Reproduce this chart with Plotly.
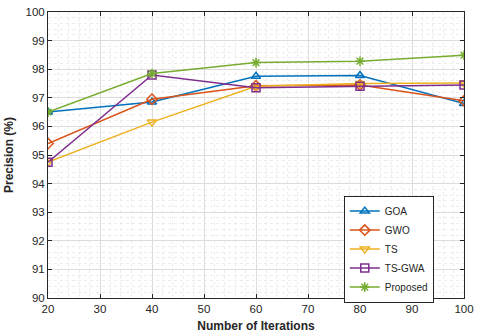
import plotly.graph_objects as go

iterations = [20, 40, 60, 80, 100]
goa = [96.5, 96.85, 97.75, 97.78, 96.8]
gwo = [95.4, 96.95, 97.42, 97.45, 96.9]
ts = [94.75, 96.15, 97.4, 97.5, 97.52]
ts_gwa = [94.75, 97.8, 97.35, 97.4, 97.45]
proposed = [96.5, 97.85, 98.23, 98.28, 98.49]

series = [
    ("GOA", goa, "#0072BD", "triangle-up-open"),
    ("GWO", gwo, "#D95319", "diamond-open"),
    ("TS", ts, "#EDB120", "triangle-down-open"),
    ("TS-GWA", ts_gwa, "#7E2F8E", "square-open"),
    ("Proposed", proposed, "#77AC30", "asterisk-open"),
]

fig = go.Figure()
for name, vals, color, sym in series:
    fig.add_trace(go.Scatter(
        x=iterations, y=vals, name=name, mode="lines+markers",
        line=dict(color=color, width=1.5),
        marker=dict(symbol=sym, size=8, color=color, line=dict(color=color, width=1.5)),
    ))

font = "Liberation Sans, Arial"
axis_common = dict(
    showline=True, linecolor="#262626", linewidth=1, mirror="ticks",
    ticks="inside", ticklen=4, tickcolor="#262626",
    showgrid=True, gridcolor="#dcdcdc", gridwidth=1,
    zeroline=False, ticklabeloverflow="allow",
    tickfont=dict(family=font, size=11.5, color="#262626"),
)

fig.update_xaxes(
    range=[20, 100], dtick=10, **axis_common,
    minor=dict(dtick=2, showgrid=True, gridcolor="#ececec", griddash="dot", ticks=""),
    title=dict(text="<b>Number of Iterations</b>", standoff=7,
               font=dict(family=font, size=12, color="#262626")),
)
fig.update_yaxes(
    range=[90, 100], dtick=1, **axis_common,
    minor=dict(dtick=0.2, showgrid=True, gridcolor="#ececec", griddash="dot", ticks=""),
    title=dict(text="<b>Precision (%)</b>", standoff=9,
               font=dict(family=font, size=12, color="#262626")),
)

fig.update_layout(
    width=480, height=336,
    margin=dict(l=48, r=13, t=6, b=37),
    plot_bgcolor="white", paper_bgcolor="white",
    legend=dict(
        x=0.711, y=0.358, xanchor="left", yanchor="top",
        bgcolor="white", bordercolor="#262626", borderwidth=1,
        font=dict(family=font, size=10, color="#262626"),
        tracegroupgap=0, itemwidth=30,
    ),
)

# drop the page's default body margin so the 480x336 figure fills the window
fig.write_html(
    "out.html",
    config={"displayModeBar": False},
    post_script="document.body.style.margin='0';document.body.style.overflow='hidden';",
)
